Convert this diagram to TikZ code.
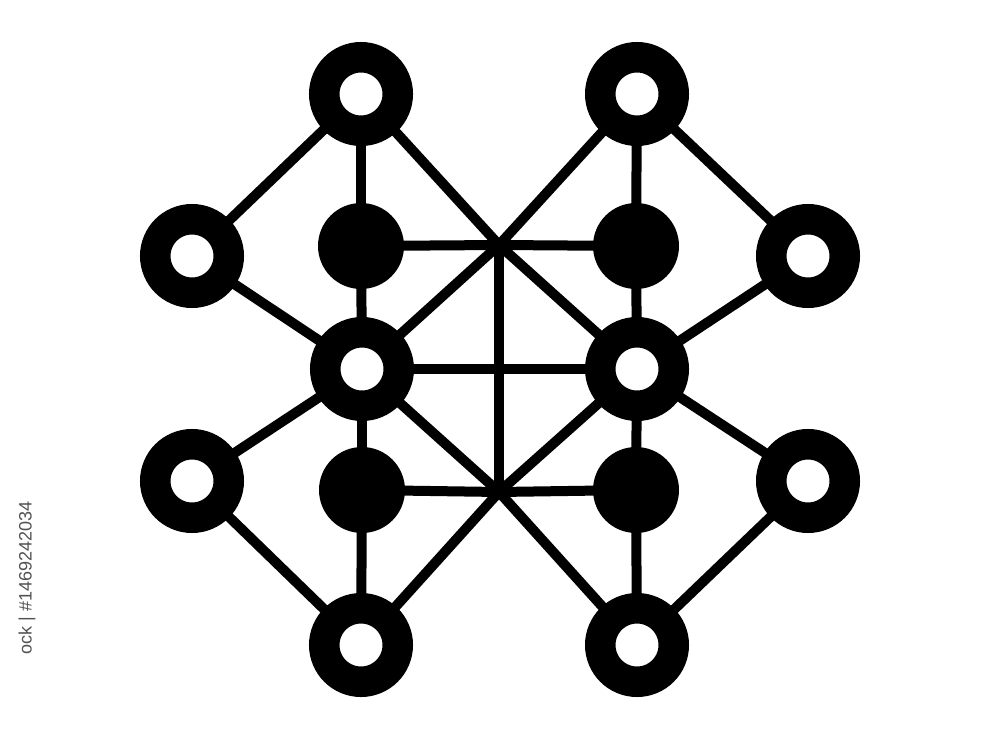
\documentclass[tikz,border=0pt]{standalone}
\usepackage{fontspec}
\newfontfamily\wmfont{Liberation Sans}
\usetikzlibrary{backgrounds}
\tikzset{
  ringnode/.style={circle, draw=black, fill=white, line width=30.5pt, minimum size=73.5pt, inner sep=0pt, outer sep=0pt},
  dotnode/.style={circle, fill=black, minimum size=86pt, inner sep=0pt, outer sep=0pt},
  link/.style={draw=black, line width=10pt, line cap=round},
  wmark/.style={text=black!68, font=\wmfont\fontsize{18}{18}\selectfont, rotate=90, anchor=east, inner sep=0pt}
}
\begin{document}
\begin{tikzpicture}[x=1pt, y=-1pt]
\useasboundingbox (0,0) rectangle (1000,751);
\clip (0,0) rectangle (1000,751);
% ring nodes
\node[ringnode] (TL) at (361,94) {};
\node[ringnode] (TR) at (637,94) {};
\node[ringnode] (LU) at (192,256) {};
\node[ringnode] (RU) at (808,256) {};
\node[ringnode] (ML) at (362,369) {};
\node[ringnode] (MR) at (637,369) {};
\node[ringnode] (LL) at (192,481) {};
\node[ringnode] (RL) at (808,481) {};
\node[ringnode] (BL) at (361,645) {};
\node[ringnode] (BR) at (637,645) {};
% solid dots
\node[dotnode] (DUL) at (361,246) {};
\node[dotnode] (DUR) at (636,246) {};
\node[dotnode] (DLL) at (362,490) {};
\node[dotnode] (DLR) at (636,490) {};
% hubs
\coordinate (C1) at (499,245);
\coordinate (C2) at (499,492);
\begin{scope}[on background layer]
\fill[white] (0,0) rectangle (1000,751);
\draw[link] (TL.center) -- (LU.center);
\draw[link] (TL.center) -- (DUL.center);
\draw[link] (TL.center) -- (C1);
\draw[link] (TR.center) -- (RU.center);
\draw[link] (TR.center) -- (DUR.center);
\draw[link] (TR.center) -- (C1);
\draw[link] (DUL.center) -- (C1) -- (DUR.center);
\draw[link] (LU.center) -- (ML.center);
\draw[link] (RU.center) -- (MR.center);
\draw[link] (ML.center) -- (DUL.center);
\draw[link] (ML.center) -- (DLL.center);
\draw[link] (MR.center) -- (DUR.center);
\draw[link] (MR.center) -- (DLR.center);
\draw[link] (ML.center) -- (C1);
\draw[link] (MR.center) -- (C1);
\draw[link] (ML.center) -- (C2);
\draw[link] (MR.center) -- (C2);
\draw[link] (ML.center) -- (MR.center);
\draw[link] (C1) -- (C2);
\draw[link] (LL.center) -- (ML.center);
\draw[link] (RL.center) -- (MR.center);
\draw[link] (LL.center) -- (BL.center);
\draw[link] (RL.center) -- (BR.center);
\draw[link] (BL.center) -- (DLL.center);
\draw[link] (BR.center) -- (DLR.center);
\draw[link] (BL.center) -- (C2);
\draw[link] (BR.center) -- (C2);
\draw[link] (DLL.center) -- (C2) -- (DLR.center);
\end{scope}
% stock id along the left edge
\node[wmark] (wm) at (27,501) {ock | \#1469242034};
\end{tikzpicture}
\end{document}
